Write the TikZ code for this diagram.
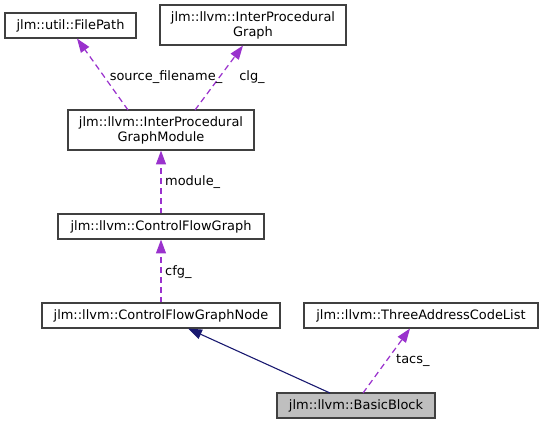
\documentclass[tikz,border=0pt]{standalone}
\usepackage{fontspec}
\setmainfont{DejaVu Sans}
\usetikzlibrary{arrows.meta}
\definecolor{edgepurple}{HTML}{9A32CD}
\definecolor{edgenavy}{HTML}{191970}
\definecolor{nodeborder}{HTML}{404040}
\definecolor{hilite}{HTML}{BFBFBF}
\begin{document}
\begin{tikzpicture}[x=1bp,y=-1bp,
  cls/.style={draw=nodeborder, line width=1.05pt, fill=white, inner sep=0pt, font=\fontsize{13}{15}\selectfont, align=center},
  usage/.style={color=edgepurple, line width=1.25pt, dash pattern=on 6pt off 4pt, -{Triangle[length=14pt,width=10pt,fill=edgepurple]}},
  inherit/.style={color=edgenavy, line width=1.1pt, -{Triangle[length=14pt,width=10pt,fill=edgenavy]}},
  lbl/.style={font=\fontsize{13}{15}\selectfont, inner sep=0pt}
]
\useasboundingbox (0,0) rectangle (543,424);
\node[cls, minimum width=131bp, minimum height=25bp] (fp) at (70.5,25.5) {jlm::util::FilePath};
\node[cls, minimum width=186bp, minimum height=40bp] (ipg) at (253,25) {jlm::llvm::InterProcedural\\Graph};
\node[cls, minimum width=186bp, minimum height=40bp] (ipgm) at (161,130) {jlm::llvm::InterProcedural\\GraphModule};
\node[cls, minimum width=206bp, minimum height=25bp] (cfg) at (161,226.5) {jlm::llvm::ControlFlowGraph};
\node[cls, minimum width=238bp, minimum height=25bp] (cfgn) at (161,315.5) {jlm::llvm::ControlFlowGraphNode};
\node[cls, minimum width=234bp, minimum height=25bp] (tac) at (421,315.5) {jlm::llvm::ThreeAddressCodeList};
\node[cls, fill=hilite, minimum width=158bp, minimum height=25bp] (bb) at (356,405.5) {jlm::llvm::BasicBlock};

\coordinate (bbL) at (330,393);
\coordinate (bbR) at (363,393);
\draw[inherit] (bbL) -- (188,328.5);
\draw[usage] (bbR) -- (tac.south -| 410,0);
\node[lbl, anchor=west] at (396,360) {tacs\_};
\draw[usage] (cfgn.north) -- (cfg.south);
\node[lbl, anchor=west] at (165,272) {cfg\_};
\draw[usage] (cfg.north) -- (ipgm.south);
\node[lbl, anchor=west] at (165,182) {module\_};
\coordinate (ipgmA) at (128,110);
\coordinate (ipgmB) at (195,110);
\draw[usage] (ipgmA) -- (fp.south -| 77,0);
\draw[usage] (ipgmB) -- (ipg.south -| 243,0);
\node[lbl] at (166,77) {source\_filename\_};
\node[lbl] at (252,77) {clg\_};
\end{tikzpicture}
\end{document}
